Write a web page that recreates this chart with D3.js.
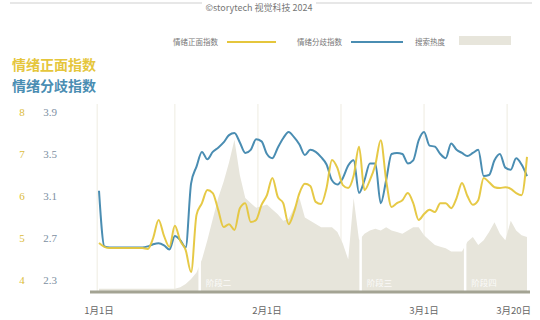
<!DOCTYPE html>
<html><head><meta charset="utf-8">
<script src="https://cdn.jsdelivr.net/npm/d3@7"></script>
<style>body{margin:0;background:#fff;}svg{display:block;}</style>
</head><body>
<script>
const startDate = "2024-01-01";
const endDate = "2024-03-20";
// 情绪正面指数 (left axis, 4-8), daily from Jan 1
const positiveIndex = [4.88,4.79,4.76,4.76,4.76,4.76,4.76,4.76,4.76,4.74,
  5.00,5.43,5.05,4.79,5.29,4.93,4.71,4.19,5.55,5.83,
  6.14,6.07,5.67,5.26,5.33,5.19,5.71,5.83,5.38,5.43,
  5.79,6.02,6.43,5.98,5.83,5.33,5.62,6.07,6.29,6.24,
  5.86,5.81,6.19,6.86,6.67,6.26,6.19,6.48,7.17,6.14,
  6.38,6.74,7.33,6.38,5.74,5.83,5.90,6.07,5.83,5.43,
  5.57,5.67,5.62,5.83,5.83,5.71,5.95,6.31,6.00,5.79,
  5.90,6.43,6.33,6.21,6.19,6.21,6.17,6.07,6.02,6.93];
// 情绪分歧指数 (right axis, 2.3-3.9)
const divergenceIndex = [3.15,2.62,2.61,2.61,2.61,2.61,2.61,2.61,2.61,2.62,
  2.64,2.65,2.63,2.59,2.72,2.68,2.61,3.22,3.38,3.52,
  3.45,3.52,3.56,3.61,3.68,3.70,3.61,3.51,3.54,3.64,
  3.62,3.50,3.46,3.56,3.65,3.71,3.66,3.59,3.49,3.54,
  3.52,3.47,3.40,3.25,3.21,3.27,3.39,3.44,3.13,3.25,
  3.41,3.41,3.03,3.25,3.50,3.51,3.50,3.41,3.44,3.63,
  3.71,3.58,3.57,3.50,3.46,3.60,3.54,3.51,3.48,3.51,
  3.54,3.29,3.30,3.44,3.50,3.37,3.35,3.46,3.40,3.29];
// 搜索热度 (relative, 0-100)
const searchHeat = [2,2,2,2,2,2,2,2,2,2,
  2,2,2,2,2,3,5,8,12,20,
  32,45,58,68,80,94,72,58,55,52,
  53,54,51,48,44,45,52,58,46,44,
  42,40,40,40,37,30,20,58,32,36,
  38,39,38,40,38,37,36,38,40,40,
  35,32,29,28,27,25,25,25,31,34,
  29,32,37,43,36,32,44,38,35,34];
const leftTicks = [4,5,6,7,8];
const rightTicks = [2.3,2.7,3.1,3.5,3.9];
const xTickDates = ["2024-01-01","2024-02-01","2024-03-01","2024-03-20"];
const xTickLabels = ["1月1日","2月1日","3月1日","3月20日"];
const gridDates = ["2023-12-31T16:00","2024-01-15T00:00","2024-01-30T08:00","2024-02-14T16:00","2024-03-01T00:00","2024-03-16T08:00"];
const phaseBounds = ["2024-01-19T14:00","2024-02-18T07:00","2024-03-08T14:00"];
const phaseLabels = ["阶段二","阶段三","阶段四"];
const legendLabels = ["情绪正面指数","情绪分歧指数","搜索热度"];

const W = 540, H = 320;
const cYellow = "#e5c63c", cBlue = "#4a8db2", cArea = "#e7e5db";
const parse = d3.isoParse;
const days = d3.timeDay.range(parse(startDate), d3.timeDay.offset(parse(endDate), 1));

const svg = d3.select("body").append("svg").attr("width", W).attr("height", H);
const serif = "'Liberation Serif','DejaVu Serif',serif";
const cjk = "'Noto Sans CJK SC',serif";

const x = d3.scaleTime().domain([parse(startDate), parse(endDate)]).range([99, 527]);
const yL = d3.scaleLinear().domain([4, 8]).range([280, 112]);
const yR = d3.scaleLinear().domain([2.3, 3.9]).range([280, 112]);
const yH = d3.scaleLinear().domain([0, 100]).range([292, 130]);

// watermark line at top
svg.append("line").attr("x1", 10).attr("x2", 532).attr("y1", 3).attr("y2", 3).attr("stroke", "#cfcfcf").attr("stroke-width", 1);
svg.append("rect").attr("x", 202).attr("y", 0).attr("width", 114).attr("height", 14).attr("fill", "#fff");
svg.append("text").attr("x", 259).attr("y", 11).attr("text-anchor", "middle").attr("font-family", cjk)
  .attr("font-size", 9).attr("fill", "#777").text("©storytech 视觉科技 2024");

// legend
const lg = svg.append("g").attr("font-family", cjk).attr("font-size", 7.5).attr("fill", "#777");
lg.append("text").attr("x", 173).attr("y", 45).text(legendLabels[0]);
lg.append("line").attr("x1", 227).attr("x2", 276).attr("y1", 42).attr("y2", 42).attr("stroke", cYellow).attr("stroke-width", 2);
lg.append("text").attr("x", 297).attr("y", 45).text(legendLabels[1]);
lg.append("line").attr("x1", 351).attr("x2", 403).attr("y1", 42).attr("y2", 42).attr("stroke", cBlue).attr("stroke-width", 2);
lg.append("text").attr("x", 415).attr("y", 45).text(legendLabels[2]);
lg.append("rect").attr("x", 459).attr("y", 36).attr("width", 52).attr("height", 9).attr("fill", cArea);

// titles
svg.append("text").attr("x", 12).attr("y", 70).attr("font-family", cjk).attr("font-weight", "bold")
  .attr("font-size", 14).attr("fill", cYellow).text("情绪正面指数");
svg.append("text").attr("x", 12).attr("y", 91).attr("font-family", cjk).attr("font-weight", "bold")
  .attr("font-size", 14).attr("fill", cBlue).text("情绪分歧指数");

// y tick labels
svg.append("g").selectAll("text").data(leftTicks).join("text")
  .attr("x", 22).attr("y", d => yL(d) + 4).attr("text-anchor", "middle")
  .attr("font-family", serif).attr("font-size", 11).attr("fill", "#dcbc3a").text(d => d);
svg.append("g").selectAll("text").data(rightTicks).join("text")
  .attr("x", 50).attr("y", d => yR(d) + 4).attr("text-anchor", "middle")
  .attr("font-family", serif).attr("font-size", 11).attr("fill", "#7d8fa2").text(d => d3.format(".1f")(d));

// vertical grid lines
svg.append("g").selectAll("line").data(gridDates.map(parse)).join("line")
  .attr("x1", d => x(d)).attr("x2", d => x(d)).attr("y1", 104).attr("y2", 291)
  .attr("stroke", "#f1efe6").attr("stroke-width", 1.2);

// search heat area
const area = d3.area().x((d, i) => x(days[i])).y0(yH(0)).y1(d => yH(d)).curve(d3.curveLinear);
svg.append("path").datum(searchHeat).attr("d", area).attr("fill", cArea);

// phase separators
svg.append("g").selectAll("line").data(phaseBounds.map(parse)).join("line")
  .attr("x1", d => x(d)).attr("x2", d => x(d)).attr("y1", 110).attr("y2", 291)
  .attr("stroke", "#fff").attr("stroke-width", 2.5);
svg.append("g").selectAll("text").data(phaseBounds.map(parse)).join("text")
  .attr("x", d => x(d) + 6).attr("y", 286).attr("font-family", cjk).attr("font-size", 8.5)
  .attr("fill", "#fff").attr("opacity", 0.85).text((d, i) => phaseLabels[i]);

// baseline
svg.append("line").attr("x1", 90).attr("x2", 530).attr("y1", 292).attr("y2", 292)
  .attr("stroke", "#a3a393").attr("stroke-width", 3);

// lines
const lineY = d3.line().x((d, i) => x(days[i])).y(d => yL(d)).curve(d3.curveMonotoneX);
const lineB = d3.line().x((d, i) => x(days[i])).y(d => yR(d)).curve(d3.curveMonotoneX);
svg.append("path").datum(divergenceIndex).attr("d", lineB).attr("fill", "none")
  .attr("stroke", cBlue).attr("stroke-width", 2);
svg.append("path").datum(positiveIndex).attr("d", lineY).attr("fill", "none")
  .attr("stroke", cYellow).attr("stroke-width", 2).attr("opacity", 0.95);

// x tick labels
svg.append("g").selectAll("text").data(xTickDates.map(parse)).join("text")
  .attr("x", (d, i) => i === xTickDates.length - 1 ? x(d) + 4 : x(d))
  .attr("text-anchor", (d, i) => i === xTickDates.length - 1 ? "end" : "middle")
  .attr("y", 314).attr("font-family", cjk).attr("font-size", 9.5).attr("fill", "#666")
  .text((d, i) => xTickLabels[i]);
</script>
</body></html>
